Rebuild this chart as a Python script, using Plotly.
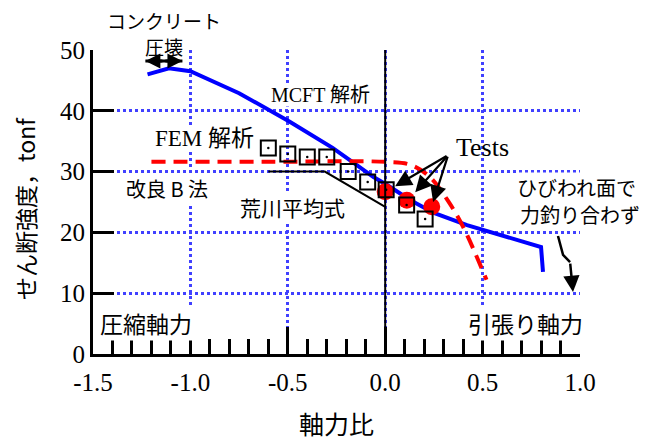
import plotly.graph_objects as go

# ---- data ----
mcft_x = [-1.22, -1.11, -1.0, -0.75, -0.49, -0.27, -0.16, -0.06, 0.01, 0.13, 0.25, 0.42, 0.80, 0.81]
mcft_y = [46.0, 47.0, 46.5, 42.9, 38.2, 33.9, 31.4, 29.1, 27.8, 25.3, 23.2, 21.2, 17.6, 13.5]

fem_x = [-1.2, -0.6, 0.0, 0.13, 0.23, 0.32, 0.40, 0.52]
fem_y = [31.6, 31.6, 31.6, 31.1, 29.1, 25.3, 20.9, 12.2]

arakawa_x = [-0.6, -0.31, 0.0]
arakawa_y = [30.0, 30.0, 24.2]

sq_x = [-0.60, -0.50, -0.40, -0.30, -0.19, -0.09, 0.005, 0.11, 0.205]
sq_y = [33.9, 32.9, 32.4, 32.4, 30.0, 28.3, 27.0, 24.5, 22.2]

circ_x = [0.0, 0.111, 0.239]
circ_y = [26.7, 25.3, 24.2]

x_ticks = [-1.5, -1.0, -0.5, 0.0, 0.5, 1.0]
x_ticktext = ["-1.5", "-1.0", "-0.5", "0.0", "0.5", "1.0"]
y_ticks = [0, 10, 20, 30, 40, 50]

tests_arrow_tail = (0.323, 32.7)
tests_arrow_tips_x = [0.051, 0.154, 0.246]
tests_arrow_tips_y = [27.6, 26.6, 25.0]

crack_x = [0.887, 0.913, 0.949]
crack_y = [19.4, 16.3, 15.1]
crack_tip = (0.964, 10.2)

crush_x = [-1.231, -1.041]
crush_y = 48.2

SERIF = "Liberation Serif, Times New Roman, serif"
CJK = "Noto Sans CJK JP, sans-serif"
MIX = "Liberation Serif, Noto Sans CJK JP, serif"
BLUE_GRID = "#4040ff"

fig = go.Figure()

fig.add_trace(go.Scatter(x=mcft_x, y=mcft_y, mode="lines",
                         line=dict(color="#0000ff", width=4), hoverinfo="skip"))
fig.add_trace(go.Scatter(x=fem_x, y=fem_y, mode="lines",
                         line=dict(color="#ff0000", width=4, dash="14px,8px", shape="spline"),
                         hoverinfo="skip"))
fig.add_trace(go.Scatter(x=arakawa_x, y=arakawa_y, mode="lines",
                         line=dict(color="black", width=2), hoverinfo="skip"))
fig.add_trace(go.Scatter(x=crack_x, y=crack_y, mode="lines",
                         line=dict(color="black", width=2.5), hoverinfo="skip"))
fig.add_trace(go.Scatter(x=crush_x, y=[crush_y, crush_y], mode="lines",
                         line=dict(color="black", width=3), hoverinfo="skip", cliponaxis=False))
fig.add_trace(go.Scatter(x=circ_x, y=circ_y, mode="markers",
                         marker=dict(symbol="circle", size=17, color="#ff0000"), hoverinfo="skip"))
fig.add_trace(go.Scatter(x=sq_x, y=sq_y, mode="markers",
                         marker=dict(symbol="square-open", size=15, color="black",
                                     line=dict(width=2, color="black")), hoverinfo="skip"))
fig.add_trace(go.Scatter(x=sq_x, y=sq_y, mode="markers",
                         marker=dict(symbol="circle", size=2.5, color="black"), hoverinfo="skip"))

# vertical black line at x=0
fig.add_shape(type="line", x0=0, x1=0, y0=0, y1=50, xref="x", yref="y",
              line=dict(color="black", width=2), layer="above")

ann = []

def txt(x, y, s, size, family=CJK, bg=None, xref="x", yref="y", angle=0):
    d = dict(x=x, y=y, xref=xref, yref=yref, text=s, showarrow=False,
             xanchor="center", yanchor="middle", textangle=angle, borderpad=0,
             font=dict(family=family, size=size, color="black"))
    if bg:
        d["bgcolor"] = bg
    ann.append(d)

# top labels (outside plot area) in paper coords
txt(-1.137, 1.0954, "コンクリート", 19, yref="paper")
txt(-1.137, 1.0099, "圧壊", 19, yref="paper")
txt(-0.333, 42.6, "MCFT 解析", 20, MIX, "white")
txt(-0.928, 35.5, "FEM 解析", 23, MIX, "white")
txt(0.497, 34.0, "Tests", 26, SERIF)
txt(-1.118, 27.3, "改良 B 法", 20, CJK, "white")
txt(-0.477, 24.2, "荒川平均式", 21, CJK, "white")
txt(0.980, 27.4, "ひびわれ面で", 20, CJK, "white")
txt(1.000, 23.0, "力釣り合わず", 20, CJK, "white")
txt(-1.226, 5.1, "圧縮軸力", 23, CJK, "white")
txt(0.718, 5.1, "引張り軸力", 23, CJK, "white")

# axis titles
txt(-0.1396, 0.477, "せん断強度，tonf", 23, CJK, xref="paper", yref="paper", angle=-90)
txt(0.499, -0.226, "軸力比", 25, CJK, xref="paper", yref="paper")

for tx, ty in zip(tests_arrow_tips_x, tests_arrow_tips_y):
    ann.append(dict(x=tx, y=ty, ax=tests_arrow_tail[0], ay=tests_arrow_tail[1],
                    xref="x", yref="y", axref="x", ayref="y", text="",
                    showarrow=True, arrowhead=2, arrowsize=1.5, arrowwidth=2.2,
                    arrowcolor="black"))

ann.append(dict(x=crack_tip[0], y=crack_tip[1], ax=crack_x[-1], ay=crack_y[-1],
                xref="x", yref="y", axref="x", ayref="y", text="",
                showarrow=True, arrowhead=2, arrowsize=1.3, arrowwidth=2.5,
                arrowcolor="black"))

mid = (crush_x[0] + crush_x[1]) / 2
for end in crush_x:
    ann.append(dict(x=end, y=crush_y, ax=mid, ay=crush_y,
                    xref="x", yref="y", axref="x", ayref="y", text="",
                    showarrow=True, arrowhead=2, arrowsize=1.0, arrowwidth=3,
                    arrowcolor="black"))

fig.update_layout(
    width=659, height=441,
    # page body has an 8px margin; plot area targets page px x 93..580, y 50..354
    margin=dict(l=85, r=87, t=42, b=95),
    paper_bgcolor="white", plot_bgcolor="white",
    showlegend=False,
    annotations=ann,
    xaxis=dict(range=[-1.5, 1.0], tickvals=x_ticks, ticktext=x_ticktext,
               automargin=False,
               ticks="inside", ticklen=27, tickwidth=3, tickcolor="black",
               showline=True, linecolor="black", linewidth=3,
               showgrid=True, gridcolor=BLUE_GRID, griddash="3px,3px", gridwidth=3,
               zeroline=False, ticklabelstandoff=4,
               minor=dict(dtick=0.1, tick0=0, ticks="inside", ticklen=15, tickwidth=3,
                          tickcolor="black", showgrid=False),
               tickfont=dict(family=SERIF, size=25, color="black")),
    yaxis=dict(range=[0, 50], tickvals=y_ticks, automargin=False,
               ticks="inside", ticklen=21, tickwidth=3, tickcolor="black",
               showline=True, linecolor="black", linewidth=3,
               showgrid=True, gridcolor=BLUE_GRID, griddash="3px,3px", gridwidth=3,
               zeroline=False,
               tickfont=dict(family=SERIF, size=25, color="black")),
)

fig.write_html("out.html")
